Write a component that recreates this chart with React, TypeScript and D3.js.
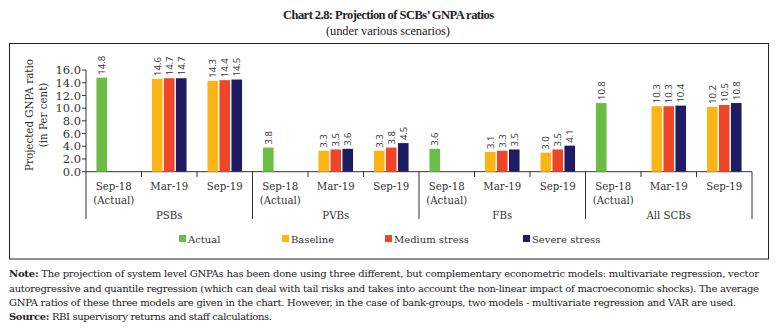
import React from "react";
import * as d3 from "d3";

const groups = ["PSBs", "PVBs", "FBs", "All SCBs"];
const periods = ["Sep-18", "Mar-19", "Sep-19"];
const seriesNames = ["Actual", "Baseline", "Medium stress", "Severe stress"];
const seriesColors = ["#6cbd45", "#fdb515", "#ee4626", "#201c64"];
// values per group: [Sep-18 actual], [Mar-19 baseline, medium, severe], [Sep-19 baseline, medium, severe]
const actualValues = [14.8, 3.8, 3.6, 10.8];
const mar19Values = [
  [14.6, 14.7, 14.7],
  [3.3, 3.5, 3.6],
  [3.1, 3.3, 3.5],
  [10.3, 10.3, 10.4],
];
const sep19Values = [
  [14.3, 14.4, 14.5],
  [3.3, 3.8, 4.5],
  [3.0, 3.5, 4.1],
  [10.2, 10.5, 10.8],
];
const yTicks = [0, 2, 4, 6, 8, 10, 12, 14, 16];

const noteLines = [
  "The projection of system level GNPAs has been done using three different, but complementary econometric models: multivariate regression, vector",
  "autoregressive and quantile regression (which can deal with tail risks and takes into account the non-linear impact of macroeconomic shocks). The average",
  "GNPA ratios of these three models are given in the chart. However, in the case of bank-groups, two models - multivariate regression and VAR are used.",
];

const titleFont = "'Liberation Serif', serif";
const serif = "'DejaVu Serif', 'Liberation Serif', serif";
const sans = "'Open Sans', 'DejaVu Sans', sans-serif";

export default function App() {
  const W = 778, H = 329;
  const x0 = 86, x1 = 752;
  const yTop = 70, yBot = 171.7;
  const cats = groups.flatMap((g) => periods.map((p) => g + "|" + p));
  const x = d3.scaleBand<string>().domain(cats).range([x0, x1]).padding(0);
  const y = d3.scaleLinear().domain([0, 16]).range([yBot, yTop]);
  const bw = 10.6;
  const pitch = 12;

  type Bar = { cx: number; v: number; s: number };
  const bars: Bar[] = [];
  groups.forEach((g, gi) => {
    const c0 = x(g + "|" + periods[0])! + x.bandwidth() / 2;
    bars.push({ cx: c0 - pitch, v: actualValues[gi], s: 0 });
    const c1 = x(g + "|" + periods[1])! + x.bandwidth() / 2;
    mar19Values[gi].forEach((v, i) => bars.push({ cx: c1 + (i - 1) * pitch, v, s: i + 1 }));
    const c2 = x(g + "|" + periods[2])! + x.bandwidth() / 2;
    sep19Values[gi].forEach((v, i) => bars.push({ cx: c2 + (i - 1) * pitch, v, s: i + 1 }));
  });

  const legendX = [179, 282, 385, 523];

  return (
    <svg width={W} height={H} style={{ position: "absolute", left: 0, top: 0, background: "#fff" }}>
      <text x={283} y={19} fontFamily={titleFont} fontWeight="bold" fontSize={12.5} fill="#222" textLength={211} lengthAdjust="spacing">
        Chart 2.8: Projection of SCBs’ GNPA ratios
      </text>
      <text x={326} y={35} fontFamily={titleFont} fontSize={12.5} fill="#222" textLength={124} lengthAdjust="spacing">
        (under various scenarios)
      </text>
      <rect x={9.5} y={43.5} width={759} height={215.5} fill="none" stroke="#222" strokeWidth={1} />

      {/* y axis */}
      <line x1={x0} x2={x0} y1={yTop} y2={yBot} stroke="#333" />
      {yTicks.map((t) => (
        <g key={t}>
          <line x1={x0 - 4} x2={x0} y1={y(t)} y2={y(t)} stroke="#333" />
          <text x={x0 - 5} y={y(t)} dy="0.36em" textAnchor="end" fontFamily={serif} fontSize={11.5} fill="#333">
            {t.toFixed(1)}
          </text>
        </g>
      ))}
      <text transform={`translate(33,115) rotate(-90)`} textAnchor="middle" fontFamily={serif} fontSize={10.3} fill="#333">
        <tspan x={0} dy="0">Projected GNPA ratio</tspan>
        <tspan x={0} dy="13.5">(in Per cent)</tspan>
      </text>

      {/* x axis */}
      <line x1={x0} x2={x1} y1={yBot} y2={yBot} stroke="#333" />
      {cats.map((c, i) => {
        const xs = x(c)!;
        return <line key={c} x1={xs} x2={xs} y1={yBot} y2={i % 3 === 0 ? 219 : 177} stroke="#333" />;
      })}
      <line x1={x1} x2={x1} y1={yBot} y2={219} stroke="#333" />
      {cats.map((c, i) => {
        const cx = x(c)! + x.bandwidth() / 2;
        const p = periods[i % 3];
        return (
          <text key={c} x={cx} y={190} textAnchor="middle" fontFamily={serif} fontSize={10.2} fill="#333">
            <tspan x={cx}>{p}</tspan>
            {i % 3 === 0 && <tspan x={cx} dy="14">(Actual)</tspan>}
          </text>
        );
      })}
      {groups.map((g) => {
        const cx = x(g + "|" + periods[1])! + x.bandwidth() / 2;
        return (
          <text key={g} x={cx} y={219} textAnchor="middle" fontFamily={serif} fontSize={10.2} fill="#333">
            {g}
          </text>
        );
      })}

      {/* bars */}
      {bars.map((b, i) => (
        <g key={i}>
          <rect x={b.cx - bw / 2} y={y(b.v)} width={bw} height={yBot - y(b.v)} fill={seriesColors[b.s]} />
          <text
            transform={`translate(${b.cx},${y(b.v) - 3}) rotate(-90)`}
            dy="0.35em"
            fontFamily={sans}
            fontSize={9.5}
            fill="#333"
          >
            {b.v.toFixed(1)}
          </text>
        </g>
      ))}

      {/* legend */}
      {seriesNames.map((s, i) => (
        <g key={s}>
          <rect x={legendX[i]} y={235} width={7} height={7} fill={seriesColors[i]} />
          <text x={legendX[i] + 9} y={243} fontFamily={serif} fontSize={10} fill="#333">
            {s}
          </text>
        </g>
      ))}

      {/* notes */}
      <text x={9} y={277} fontFamily={serif} fontSize={10} fill="#222" textLength={750} lengthAdjust="spacing">
        <tspan fontWeight="bold">Note:</tspan> {noteLines[0]}
      </text>
      <text x={9} y={291.5} fontFamily={serif} fontSize={10} fill="#222" textLength={750} lengthAdjust="spacing">
        {noteLines[1]}
      </text>
      <text x={9} y={306} fontFamily={serif} fontSize={10} fill="#222" textLength={727} lengthAdjust="spacing">
        {noteLines[2]}
      </text>
      <text x={9} y={320} fontFamily={serif} fontSize={10} fill="#222" textLength={263} lengthAdjust="spacing">
        <tspan fontWeight="bold">Source:</tspan> RBI supervisory returns and staff calculations.
      </text>
    </svg>
  );
}
